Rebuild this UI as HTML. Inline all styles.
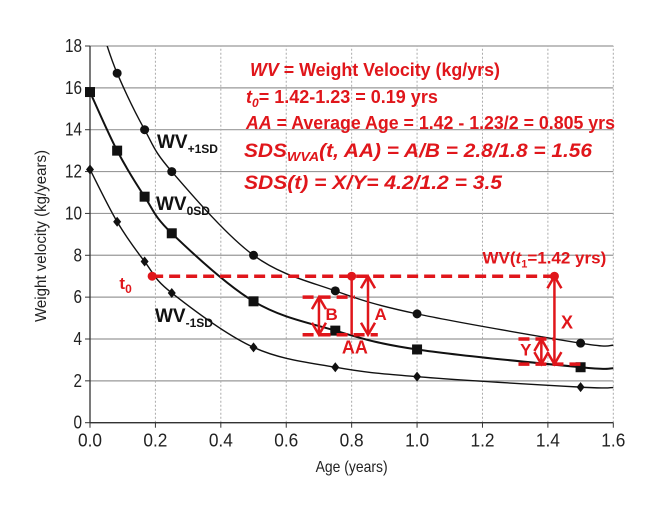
<!DOCTYPE html>
<html><head><meta charset="utf-8"><style>
body{margin:0;background:#fff}
svg{display:block;font-family:"Liberation Sans Narrow","Liberation Sans",sans-serif}
</style></head><body>
<svg id="chart" width="660" height="520" viewBox="0 0 660 520">
<g id="grid"></g>
<g id="axes"></g>
<g id="series"></g>
<g id="annot"></g>
</svg>
<script>
const xTicks=[0,0.2,0.4,0.6,0.8,1.0,1.2,1.4,1.6];
const yTicks=[0,2,4,6,8,10,12,14,16,18];
const agesPlus=[0.083,0.167,0.25,0.5,0.75,1.0,1.5];
const valsPlus=[16.7,14,12,8,6.3,5.2,3.8];
const ages0=[0,0.083,0.167,0.25,0.5,0.75,1.0,1.5];
const vals0=[15.8,13,10.8,9.05,5.8,4.4,3.5,2.65];
const agesMinus=[0,0.083,0.167,0.25,0.5,0.75,1.0,1.5];
const valsMinus=[12.1,9.6,7.7,6.2,3.6,2.65,2.2,1.7];
const t0=0.19, t1=1.42, aa=0.8, wvLevel=7;
const x=v=>90+v*(613.3-90)/1.6;
const y=v=>422.7-v*(422.7-46)/18;
const NS="http://www.w3.org/2000/svg";
function mk(tag,attrs,parent){const e=document.createElementNS(NS,tag);for(const k in attrs)e.setAttribute(k,attrs[k]);parent.appendChild(e);return e;}
const grid=document.getElementById('grid'),axes=document.getElementById('axes'),ser=document.getElementById('series'),ann=document.getElementById('annot');
yTicks.forEach(t=>{
 const l=mk('line',{x1:x(0),x2:x(1.6),y1:y(t),y2:y(t),stroke:'#999','stroke-width':1.2},grid);
 
 
 const s=String(t);
 const tx=mk('text',{x:x(0)-8,y:y(t)+6,'text-anchor':'end','font-size':18,fill:'#222',textLength:s.length*8.5,lengthAdjust:'spacingAndGlyphs'},axes);tx.textContent=s;
 
 
 mk('line',{x1:x(0)-5,x2:x(0),y1:y(t),y2:y(t),stroke:'#333'},axes);
});
xTicks.forEach(t=>{
 if(t>0){const l=mk('line',{x1:x(t),x2:x(t),y1:y(0),y2:y(18),stroke:'#aaa','stroke-width':1,'stroke-dasharray':'2,2'},grid);
 
 }
 const tx=mk('text',{x:x(t),y:y(0)+24,'text-anchor':'middle','font-size':18,fill:'#222',textLength:24,lengthAdjust:'spacingAndGlyphs'},axes);tx.textContent=t.toFixed(1);
 
 
 mk('line',{x1:x(t),x2:x(t),y1:y(0),y2:y(0)+5,stroke:'#333'},axes);
});
mk('line',{x1:x(0),x2:x(0),y1:y(0),y2:y(18),stroke:'#333','stroke-width':1.3},axes);
mk('line',{x1:x(0),x2:x(1.6),y1:y(0),y2:y(0),stroke:'#333','stroke-width':1.3},axes);
let xt=mk('text',{x:x(0.8),y:472,'text-anchor':'middle','font-size':16,fill:'#222',textLength:72,lengthAdjust:'spacingAndGlyphs'},axes);xt.textContent='Age (years)';


let yt=mk('text',{x:0,y:0,transform:'translate(46,236) rotate(-90)','text-anchor':'middle','font-size':16,fill:'#222',textLength:172,lengthAdjust:'spacingAndGlyphs'},axes);yt.textContent='Weight velocity (kg/years)';


mk('clipPath',{id:'clip'},document.getElementById('chart'));
mk('rect',{x:x(0)-10,y:y(18),width:540,height:390},document.getElementById('clip'));
function curve(pts){let d='M'+pts[0][0]+','+pts[0][1];
 for(let i=0;i<pts.length-1;i++){const p0=pts[i-1]||pts[i],p1=pts[i],p2=pts[i+1],p3=pts[i+2]||p2;
  d+=' C'+(p1[0]+(p2[0]-p0[0])/6)+','+(p1[1]+(p2[1]-p0[1])/6)+' '+(p2[0]-(p3[0]-p1[0])/6)+','+(p2[1]-(p3[1]-p1[1])/6)+' '+p2[0]+','+p2[1];}
 return d;}
function series(ages,vals,name,marker,w,start,endV){
 let pts=ages.map((a,i)=>[x(a),y(vals[i])]);
 if(start)pts.unshift([x(start[0]),y(start[1])]);
 pts.push([x(1.6),y(endV)]);
 const p=mk('path',{d:curve(pts),fill:'none',stroke:'#111','stroke-width':w,'clip-path':'url(#clip)'},ser);
 
 
 ages.forEach((a,i)=>{let m;
  if(marker==='circle')m=mk('circle',{cx:x(a),cy:y(vals[i]),r:4.5,fill:'#111'},ser);
  else if(marker==='square')m=mk('rect',{x:x(a)-5,y:y(vals[i])-5,width:10,height:10,fill:'#111'},ser);
  else m=mk('path',{d:`M${x(a)},${y(vals[i])-5}L${x(a)+4},${y(vals[i])}L${x(a)},${y(vals[i])+5}L${x(a)-4},${y(vals[i])}Z`,fill:'#111'},ser);
  
  });
}
series(agesPlus,valsPlus,'wv-plus-1sd','circle',1.4,[0.04,18.6],3.7);
series(ages0,vals0,'wv-0sd','square',2,null,2.6);
series(agesMinus,valsMinus,'wv-minus-1sd','diamond',1.4,null,1.68);
function lbl(tx,sub,px,py,name){const t=mk('text',{x:px,y:py,'font-size':19,fill:'#111','font-weight':'bold'},ser);
 t.innerHTML=tx+'<tspan font-size="12" dy="5">'+sub+'</tspan>';
 
 }
lbl('WV','+1SD',157,148,'label-wv-plus-1sd');
lbl('WV','0SD',156,210,'label-wv-0sd');
lbl('WV','-1SD',155,322,'label-wv-minus-1sd');
const R='#e0161b';
function dash(a,b,v,name){const l=mk('line',{x1:x(a),x2:x(b),y1:y(v),y2:y(v),stroke:R,'stroke-width':3.5,'stroke-dasharray':'11,6'},ann);
 
 }
function arrow(a,v1,v2,name){const X=x(a),Y1=y(v1),Y2=y(v2);
 const g=mk('g',{stroke:R,'stroke-width':2.5,fill:'none'},ann);
 
 
 mk('line',{x1:X,x2:X,y1:Y1,y2:Y2},g);
 mk('path',{d:`M${X-7},${Y1+12}L${X},${Y1}L${X+7},${Y1+12}M${X-7},${Y2-12}L${X},${Y2}L${X+7},${Y2-12}`},g);}
dash(t0,t1,wvLevel,'wv-level-dashed');
dash(0.65,0.81,6,'b-top-dash');dash(0.65,0.88,4.2,'b-bottom-dash');
dash(1.31,1.42,4,'y-top-dash');dash(1.31,1.5,2.8,'y-bottom-dash');
let vl=mk('line',{x1:x(aa),x2:x(aa),y1:y(wvLevel),y2:y(4.2),stroke:R,'stroke-width':2.5},ann);


arrow(0.85,7,4.2,'arrow-a');arrow(0.70,6,4.2,'arrow-b');arrow(1.42,7,2.8,'arrow-x');arrow(1.38,4,2.8,'arrow-y');
[t0,aa,t1].forEach(a=>{const c=mk('circle',{cx:x(a),cy:y(wvLevel),r:4.5,fill:R},ann);
 
 });
function rt(txt,px,py,size,name,extra){const t=mk('text',{x:px,y:py,'font-size':size,fill:R,'font-weight':'bold'},ann);
 t.innerHTML=txt;if(extra)for(const k in extra)t.setAttribute(k,extra[k]);
 
 }
rt('t<tspan font-size="12" dy="4">0</tspan>',x(0.09),y(6.4),17,'label-t0');
rt('B',x(0.72),y(4.9),17,'label-b');rt('A',x(0.87),y(4.9),17,'label-a');
rt('AA',x(0.77),y(3.3),18,'label-aa');
rt('X',x(1.44),y(4.5),18,'label-x');rt('Y',x(1.315),y(3.2),17,'label-y');
rt('WV(<tspan font-style="italic">t</tspan><tspan font-size="11" dy="4">1</tspan><tspan dy="-4">=1.42 yrs)</tspan>',x(1.2),y(7.6),17,'label-wv-t1');
rt('<tspan font-style="italic">WV</tspan> = Weight Velocity (kg/yrs)',250,76,18,'formula-wv',{textLength:250,lengthAdjust:'spacingAndGlyphs'});
rt('<tspan font-style="italic">t</tspan><tspan font-size="12" dy="4" font-style="italic">0</tspan><tspan dy="-4">= 1.42-1.23 = 0.19 yrs</tspan>',246,103,18,'formula-t0');
rt('<tspan font-style="italic">AA</tspan> = Average Age = 1.42 - 1.23/2 = 0.805 yrs',246,129,18,'formula-aa',{textLength:369,lengthAdjust:'spacingAndGlyphs'});
rt('SDS<tspan font-size="13" dy="4">WVA</tspan><tspan dy="-4">(t, AA) = A/B = 2.8/1.8 = 1.56</tspan>',244,157,19,'formula-sds-wva',{'font-style':'italic',textLength:348,lengthAdjust:'spacingAndGlyphs'});
rt('SDS(t) = X/Y= 4.2/1.2 = 3.5',244,189,19,'formula-sds-t',{'font-style':'italic',textLength:258,lengthAdjust:'spacingAndGlyphs'});
</script>
</body></html>
